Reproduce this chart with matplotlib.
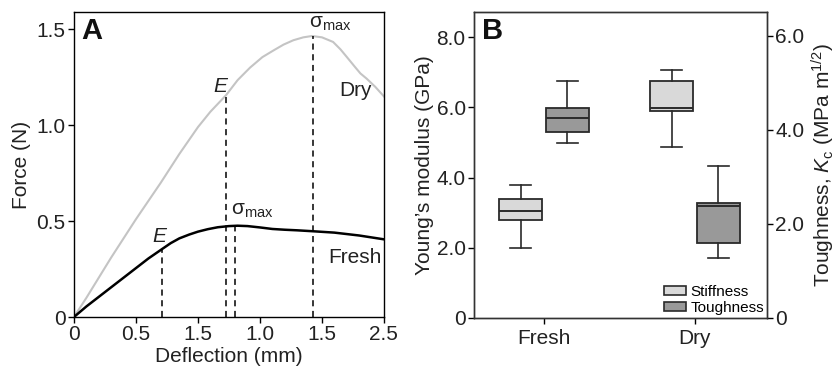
import matplotlib
matplotlib.use("Agg")
import matplotlib.pyplot as plt
from matplotlib.patches import Patch

plt.rcParams['font.family'] = ['Liberation Sans', 'DejaVu Sans']
plt.rcParams['mathtext.fontset'] = 'custom'
plt.rcParams['mathtext.rm'] = 'Liberation Sans'
plt.rcParams['mathtext.it'] = 'Liberation Sans:italic'

# Panel A: force-deflection curves
dry_x = [0, 0.1, 0.3, 0.5, 0.7, 0.85, 1.0, 1.1, 1.226, 1.32, 1.42, 1.52, 1.61, 1.69, 1.77,
         1.85, 1.92, 2.0, 2.09, 2.15, 2.2, 2.266, 2.31, 2.36, 2.43, 2.5]
dry_y = [0, 0.10, 0.31, 0.51, 0.70, 0.85, 0.99, 1.07, 1.156, 1.235, 1.30, 1.355, 1.39, 1.42, 1.443,
         1.458, 1.465, 1.458, 1.434, 1.395, 1.356, 1.304, 1.27, 1.243, 1.20, 1.15]
fresh_x = [0, 0.1, 0.2, 0.3, 0.4, 0.5, 0.6, 0.71, 0.78, 0.85, 0.93, 1.0, 1.08, 1.16, 1.25,
           1.32, 1.4, 1.5, 1.6, 1.7, 1.8, 1.93, 2.1, 2.3, 2.5]
fresh_y = [0, 0.055, 0.105, 0.155, 0.205, 0.255, 0.305, 0.354, 0.385, 0.41, 0.43, 0.445, 0.458, 0.468, 0.474,
           0.476, 0.474, 0.467, 0.459, 0.455, 0.452, 0.447, 0.44, 0.425, 0.405]

# E and sigma_max markers (fresh E, dry E, fresh smax, dry smax)
mark_x = [0.71, 1.226, 1.30, 1.925]
mark_top = [0.354, 1.156, 0.476, 1.465]

xtick_vals = [0, 0.5, 1.0, 1.5, 2.0, 2.5]
xtick_text = ['0', '0.5', '1.5', '1.0', '1.5', '2.5']
ytick_vals = [0, 0.5, 1.0, 1.5]
ytick_text = ['0', '0.5', '1.0', '1.5']

# Panel B: box statistics (Fresh, Dry)
groups = ['Fresh', 'Dry']
stiff_lo = [2.0, 4.88]
stiff_q1 = [2.80, 5.91]
stiff_med = [3.04, 5.99]
stiff_q3 = [3.39, 6.76]
stiff_hi = [3.80, 7.07]
tough_lo = [3.72, 1.28]
tough_q1 = [3.95, 1.59]
tough_med = [4.26, 2.38]
tough_q3 = [4.46, 2.44]
tough_hi = [5.05, 3.24]

stiff_color = '#d9d9d9'
tough_color = '#999999'
edge = '#2a2a2a'
txt = '#222222'

fig = plt.figure(figsize=(8.33, 3.72), dpi=100)
axA = fig.add_axes([0.0888, 0.1478, 0.3721, 0.8199])
axB = fig.add_axes([0.569, 0.1452, 0.3517, 0.8226])

# ---- Panel A ----
axA.plot(dry_x, dry_y, color='#c4c4c4', lw=1.5)
axA.plot(fresh_x, fresh_y, color='black', lw=1.8)
axA.vlines(mark_x, 0, mark_top, colors='black', linestyles=(0, (4, 3)), lw=1.1)
axA.set_xlim(0, 2.5)
axA.set_ylim(0, 1.59)
axA.set_xticks(xtick_vals)
axA.set_xticklabels(xtick_text)
axA.set_yticks(ytick_vals)
axA.set_yticklabels(ytick_text)
axA.tick_params(direction='out', length=4, width=1, labelsize=15, labelcolor=txt, pad=2)
axA.set_xlabel('Deflection (mm)', fontsize=15, color=txt, labelpad=2)
axA.set_ylabel('Force (N)', fontsize=15, color=txt, labelpad=4)
for s in axA.spines.values():
    s.set_linewidth(1.0)
axA.text(0.025, 0.985, 'A', transform=axA.transAxes, fontsize=21, fontweight='bold',
         va='top', ha='left', color='#111111')
axA.text(0.69, 0.42, 'E', style='italic', fontsize=15, ha='center', va='center', color=txt)
axA.text(1.18, 1.20, 'E', style='italic', fontsize=15, ha='center', va='center', color=txt)
axA.text(1.27, 0.555, r'$\mathregular{\sigma_{max}}$', fontsize=15, ha='left', va='center', color=txt)
axA.text(2.065, 1.53, r'$\mathregular{\sigma_{max}}$', fontsize=15, ha='center', va='center', color=txt)
axA.text(2.27, 1.18, 'Dry', fontsize=15, ha='center', va='center', color=txt)
axA.text(2.27, 0.31, 'Fresh', fontsize=15, ha='center', va='center', color=txt)

# ---- Panel B ----
axB2 = axB.twinx()
offset = 0.155
bw = 0.285
stiff_stats = [dict(whislo=stiff_lo[i], q1=stiff_q1[i], med=stiff_med[i], q3=stiff_q3[i],
                    whishi=stiff_hi[i], fliers=[]) for i in range(len(groups))]
tough_stats = [dict(whislo=tough_lo[i], q1=tough_q1[i], med=tough_med[i], q3=tough_q3[i],
                    whishi=tough_hi[i], fliers=[]) for i in range(len(groups))]
pos = list(range(len(groups)))

common = dict(widths=bw, patch_artist=True, showfliers=False,
              whiskerprops=dict(color=edge, lw=1.2),
              capprops=dict(color=edge, lw=1.2),
              medianprops=dict(color=edge, lw=1.4))
axB.bxp(stiff_stats, positions=[p - offset for p in pos],
        boxprops=dict(facecolor=stiff_color, edgecolor=edge, lw=1.3), **common)
axB2.bxp(tough_stats, positions=[p + offset for p in pos],
         boxprops=dict(facecolor=tough_color, edgecolor=edge, lw=1.3), **common)

axB.set_xlim(-0.464, 1.477)
axB.set_ylim(0, 8.72)
axB2.set_ylim(0, 6.51)
axB.set_xticks(pos)
axB.set_xticklabels(groups)
axB.set_yticks([0, 2, 4, 6, 8])
axB.set_yticklabels(['0', '2.0', '4.0', '6.0', '8.0'])
axB2.set_yticks([0, 2, 4, 6])
axB2.set_yticklabels(['0', '2.0', '4.0', '6.0'])
for a in (axB, axB2):
    a.tick_params(direction='out', length=4, width=1, labelsize=15, labelcolor=txt, pad=2)
    for s in a.spines.values():
        s.set_linewidth(1.0)
        s.set_color('#333333')
axB.tick_params(axis='x', pad=4)
axB.set_ylabel('Young\u2019s modulus (GPa)', fontsize=15, color=txt, labelpad=2)
axB2.set_ylabel(r'Toughness, $\mathit{K}_\mathregular{c}$ (MPa m$^\mathregular{1/2}$)',
                fontsize=15, color=txt, labelpad=4)
axB.text(0.027, 0.985, 'B', transform=axB.transAxes, fontsize=21, fontweight='bold',
         va='top', ha='left', color='#111111')

handles = [Patch(facecolor=stiff_color, edgecolor=edge, lw=1.2, label='Stiffness'),
           Patch(facecolor=tough_color, edgecolor=edge, lw=1.2, label='Toughness')]
axB2.legend(handles=handles, loc='lower right', frameon=False, fontsize=11,
            handlelength=1.45, handleheight=0.55, handletextpad=0.3,
            labelspacing=0.15, borderaxespad=0.1, borderpad=0.1)

fig.savefig('out.png', dpi=100)
